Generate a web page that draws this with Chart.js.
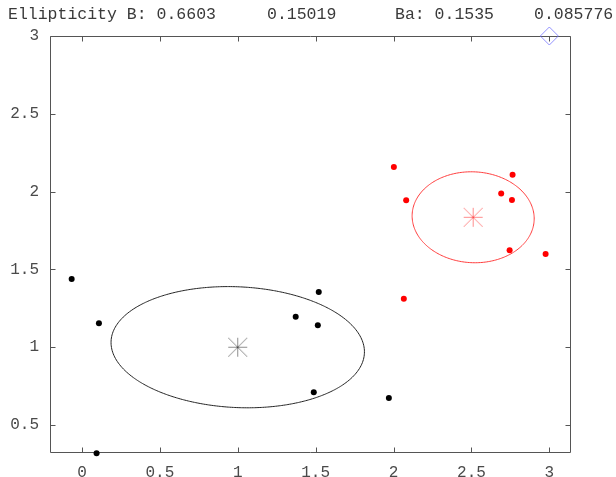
<!DOCTYPE html>
<html>
<head>
<meta charset="utf-8">
<script src="https://cdn.jsdelivr.net/npm/chart.js@4.4.1/dist/chart.umd.min.js"></script>
<style>
  html, body { margin: 0; padding: 0; background: #fff; }
  canvas { display: block; }
</style>
</head>
<body>
<canvas id="ellipseChart" width="616" height="477"></canvas>
<script>
//------------------------ DONNEES ------------------------------

// groupe B (points noirs)
const groupBx = [-0.066, 0.109, 0.094, 1.372, 1.520, 1.514, 1.488, 1.970];
const groupBy = [1.438, 1.154, 0.318, 1.196, 1.355, 1.141, 0.710, 0.674];
// groupe Ba (points rouges)
const groupRx = [2.002, 2.764, 2.081, 2.691, 2.760, 2.745, 2.976, 2.066];
const groupRy = [2.158, 2.109, 1.944, 1.987, 1.946, 1.623, 1.599, 1.312];
// centroides [x, y]
const centerB = [1.0, 1.0];
const centerR = [2.511, 1.835];
// ellipses : [demi grand axe, demi petit axe, angle en rad]
const ellipseB = [0.814, 0.388, -0.048];
const ellipseR = [0.392, 0.292, -0.05];
// point de reference (losange bleu)
const refPoint = [3, 3];

const xTicks = [0, 0.5, 1, 1.5, 2, 2.5, 3];
const yTicks = [0.5, 1, 1.5, 2, 2.5, 3];
const titleParts = ["Ellipticity B: 0.6603", "0.15019", "Ba: 0.1535", "0.085776"];

//------------------------ FONCTIONS ------------------------------

function toPoints(xs, ys) {
    return xs.map((x, i) => ({x: x, y: ys[i]}));
}

// contour de l'ellipse a partir du centre, des demi-axes et de l'angle
function ellipseOutline(center, ell) {
    var pts = [];
    var n = 120;
    for (var i = 0; i <= n; i++) {
        var t = 2 * Math.PI * i / n;
        var u = ell[0] * Math.cos(t), v = ell[1] * Math.sin(t);
        pts.push({
            x: center[0] + u * Math.cos(ell[2]) - v * Math.sin(ell[2]),
            y: center[1] + u * Math.sin(ell[2]) + v * Math.cos(ell[2])
        });
    }
    return pts;
}

// marqueur etoile (+ et x de meme taille)
function starMarker(color, half) {
    var c = document.createElement("canvas");
    var s = Math.ceil(half * 2 + 2);
    c.width = s; c.height = s;
    var g = c.getContext("2d");
    var m = s / 2;
    g.strokeStyle = color;
    g.lineWidth = 1;
    var segs = [[-half, 0, half, 0], [0, -half, 0, half], [-half, -half, half, half], [-half, half, half, -half]];
    segs.forEach(function (sg) {
        g.beginPath();
        g.moveTo(m + sg[0], m + sg[1]);
        g.lineTo(m + sg[2], m + sg[3]);
        g.stroke();
    });
    return c;
}

const frameColor = "#555";
const monoFont = "Liberation Mono";

// cadre avec graduations vers l'interieur
const framePlugin = {
    id: "frame",
    beforeDatasetsDraw(chart) {
        const ctx = chart.ctx;
        const a = chart.chartArea;
        const xs = chart.scales.x, ys = chart.scales.y;
        const L = Math.round(a.left) + 0.5, R = Math.round(a.right) - 0.5;
        const T = Math.round(a.top) + 0.5, B = Math.round(a.bottom) - 0.5;
        const tl = 5;
        ctx.save();
        ctx.strokeStyle = frameColor;
        ctx.lineWidth = 1;
        ctx.beginPath();
        ctx.rect(L, T, R - L, B - T);
        xTicks.forEach(function (v) {
            var px = Math.round(xs.getPixelForValue(v)) + 0.5;
            ctx.moveTo(px, B); ctx.lineTo(px, B - tl);
            ctx.moveTo(px, T); ctx.lineTo(px, T + tl);
        });
        yTicks.forEach(function (v) {
            var py = Math.round(ys.getPixelForValue(v)) + 0.5;
            ctx.moveTo(L, py); ctx.lineTo(L + tl, py);
            ctx.moveTo(R, py); ctx.lineTo(R - tl, py);
        });
        ctx.stroke();
        ctx.restore();
    }
};

// titre en plusieurs morceaux
const titlePlugin = {
    id: "titleParts",
    afterDraw(chart) {
        const ctx = chart.ctx;
        const pos = [8, 267, 395, 534];
        ctx.save();
        ctx.font = "16.5px '" + monoFont + "'";
        ctx.fillStyle = "#3a3a3a";
        ctx.textBaseline = "alphabetic";
        titleParts.forEach(function (t, i) {
            ctx.fillText(t, pos[i], 19);
        });
        ctx.restore();
    }
};

//------------------------ GRAPHIQUE ------------------------------

const data = {
    datasets: [
        {
            data: ellipseOutline(centerB, ellipseB),
            showLine: true, borderColor: "#222", borderWidth: 1, tension: 0.2,
            pointRadius: 0, fill: false
        },
        {
            data: ellipseOutline(centerR, ellipseR),
            showLine: true, borderColor: "rgb(255,60,60)", borderWidth: 1, tension: 0.2,
            pointRadius: 0, fill: false
        },
        {
            data: toPoints(groupBx, groupBy),
            pointRadius: 3, backgroundColor: "#000", borderColor: "#000", borderWidth: 0
        },
        {
            data: toPoints(groupRx, groupRy),
            pointRadius: 3, backgroundColor: "#f00", borderColor: "#f00", borderWidth: 0
        },
        {
            data: [{x: centerB[0], y: centerB[1]}],
            pointStyle: starMarker("rgba(0,0,0,0.45)", 9.5)
        },
        {
            data: [{x: centerR[0], y: centerR[1]}],
            pointStyle: starMarker("rgba(255,0,0,0.45)", 9.5)
        },
        {
            data: [{x: refPoint[0], y: refPoint[1]}],
            pointStyle: "rectRot", pointRadius: 9,
            borderColor: "rgba(110,110,255,0.75)", backgroundColor: "rgba(0,0,0,0)", borderWidth: 1
        }
    ]
};

data.datasets.forEach(function (d) { d.clip = false; });

const tickFont = {family: monoFont, size: 16};

new Chart(document.getElementById("ellipseChart"), {
    type: "scatter",
    data: data,
    options: {
        responsive: false,
        animation: false,
        events: [],
        layout: {padding: {left: 0, top: 36, right: 45, bottom: 0}},
        plugins: {legend: {display: false}, tooltip: {enabled: false}, title: {display: false}},
        scales: {
            x: {
                type: "linear", min: -0.205, max: 3.139,
                grid: {display: false, drawTicks: false},
                border: {display: false},
                afterBuildTicks: function (s) { s.ticks = xTicks.map(v => ({value: v})); },
                afterFit: function (s) { s.height = 24; },
                ticks: {font: tickFont, color: "#4a4a4a", padding: 10, maxRotation: 0,
                        callback: v => String(v)}
            },
            y: {
                type: "linear", min: 0.32, max: 3,
                grid: {display: false, drawTicks: false},
                border: {display: false},
                afterBuildTicks: function (s) { s.ticks = yTicks.map(v => ({value: v})); },
                afterFit: function (s) { s.width = 50; },
                ticks: {font: tickFont, color: "#4a4a4a", padding: 11,
                        callback: v => String(v)}
            }
        }
    },
    plugins: [framePlugin, titlePlugin]
});
</script>
</body>
</html>
